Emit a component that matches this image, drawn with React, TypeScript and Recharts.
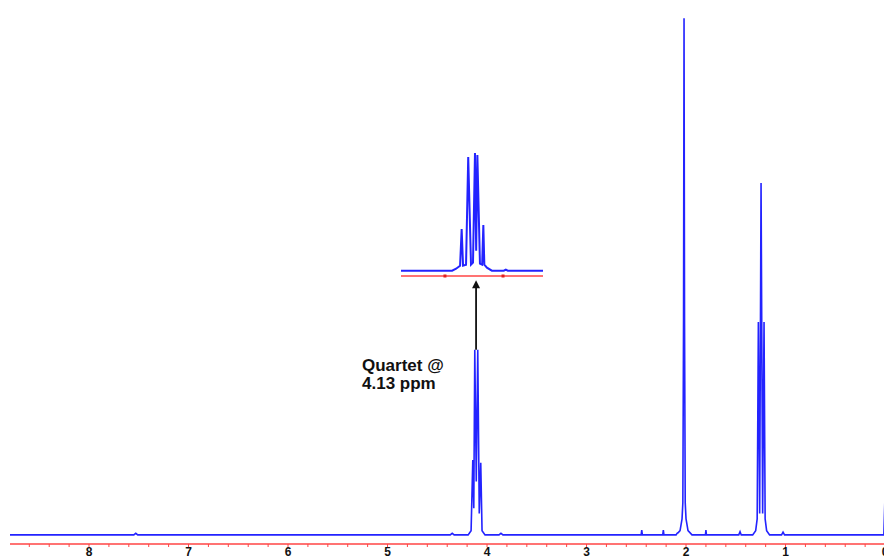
import React from "react";
import { LineChart, Line, XAxis, YAxis, ReferenceLine } from "recharts";

// main spectrum, chemical shift (ppm) and intensity
const mainShifts = [
  -0.07, -0.012, 0.0, 0.012, 1.01, 1.025, 1.04,
  1.16, 1.19, 1.205, 1.216, 1.23, 1.246, 1.26, 1.273, 1.285, 1.3, 1.33,
  1.445, 1.457, 1.47, 1.795, 1.8, 1.805,
  1.94, 1.98, 2.0, 2.008, 2.015, 2.02, 2.025, 2.032, 2.04, 2.06, 2.08, 2.09, 2.1,
  2.222, 2.228, 2.234, 2.439, 2.445, 2.451,
  3.84, 3.86, 3.88, 4.02, 4.05, 4.063, 4.078, 4.093, 4.108, 4.123, 4.133, 4.143, 4.16, 4.19,
  4.33, 4.35, 4.37, 7.51, 7.53, 7.55, 8.794,
];
const mainIntensity = [
  0, 0, 7.5, 0, 0, 0.5, 0,
  0, 0.8, 3, 39.8, 4, 65.8, 4, 39.8, 3, 0.8, 0,
  0, 0.6, 0, 0, 0.9, 0,
  0, 0.8, 3, 6, 40, 96.6, 40, 6, 3, 0.8, 0.4, 0.3, 0,
  0, 0.9, 0, 0, 0.9, 0,
  0, 0.3, 0, 0, 0.8, 13.5, 4, 34.6, 10, 34.6, 5, 14, 0.8, 0,
  0, 0.3, 0, 0, 0.3, 0, 0,
];

// expanded quartet shown in the inset
const insetShifts = [
  3.773, 3.95, 3.96, 3.97, 4.03, 4.055, 4.068, 4.073, 4.079, 4.09, 4.103, 4.109,
  4.115, 4.125, 4.135, 4.149, 4.16, 4.175, 4.182, 4.19, 4.21, 4.23, 4.487,
];
const insetIntensity = [
  0, 0, 1, 0, 0, 3, 6, 45.7, 6, 7, 115.7, 20,
  117.7, 8, 6, 113.7, 6, 5, 41.7, 5, 2, 0, 0,
];

const axisTicks = [
  0, 0.2, 0.4, 0.6, 0.8, 1, 1.2, 1.4, 1.6, 1.8, 2, 2.2, 2.4, 2.6, 2.8, 3, 3.2,
  3.4, 3.6, 3.8, 4, 4.2, 4.4, 4.6, 4.8, 5, 5.2, 5.4, 5.6, 5.8, 6, 6.2, 6.4,
  6.6, 6.8, 7, 7.2, 7.4, 7.6, 7.8, 8, 8.2, 8.4, 8.6,
];
const insetTicks = [3.974, 4.266];

const annotationLines = ["Quartet @", "4.13 ppm"];

const BLUE = "#2323ff";
const RED = "#ff4545";

const mainData = mainShifts.map((ppm, i) => ({ ppm, v: mainIntensity[i] }));
const insetData = insetShifts.map((ppm, i) => ({ ppm, v: insetIntensity[i] }));

const MainTick = (props: any) => {
  const { x, y, payload } = props;
  const v = payload.value;
  if (Math.abs(v - Math.round(v)) > 1e-6) return null;
  return (
    <text
      x={x}
      y={y + 9}
      textAnchor="middle"
      fontSize={12}
      fontWeight="bold"
      fontFamily="Liberation Sans, Arial, sans-serif"
      fill="#111"
    >
      {Math.round(v)}
    </text>
  );
};

const InsetTick = (props: any) => {
  const { x, y } = props;
  return <rect x={x - 1.5} y={y - 1.5} width={3} height={3} fill="#e02020" />;
};

const Arrow = (p: any) => {
  const top = Math.min(p.y1, p.y2);
  const bottom = Math.max(p.y1, p.y2);
  const x = p.x1;
  return (
    <g>
      <line x1={x} y1={bottom} x2={x} y2={top + 6} stroke="#111" strokeWidth={1.8} />
      <polygon points={`${x},${top} ${x - 4},${top + 8} ${x + 4},${top + 8}`} fill="#111" />
    </g>
  );
};

export default function App() {
  return (
    <div style={{ position: "relative", width: 884, height: 560 }}>
      <LineChart
        width={884}
        height={560}
        data={mainData}
        margin={{ top: 0, right: 0, bottom: 0, left: 2 }}
      >
        <XAxis
          type="number"
          dataKey="ppm"
          domain={[-0.07, 8.794]}
          reversed
          allowDataOverflow
          ticks={axisTicks}
          interval={0}
          height={24}
          axisLine={{ stroke: RED, strokeWidth: 1.5 }}
          tickLine={{ stroke: RED, strokeWidth: 1 }}
          tickSize={3}
          tickMargin={0}
          tick={<MainTick />}
        />
        <YAxis hide domain={[-1.7, 98.5]} allowDataOverflow />
        <Line
          type="linear"
          dataKey="v"
          stroke={BLUE}
          strokeWidth={1.6}
          dot={false}
          isAnimationActive={false}
        />
        <ReferenceLine
          segment={[
            { x: 4.11, y: 34.6 },
            { x: 4.11, y: 47.6 },
          ]}
          shape={<Arrow />}
        />
      </LineChart>

      <div style={{ position: "absolute", left: 393, top: 132 }}>
        <LineChart
          width={142}
          height={146}
          data={insetData}
          margin={{ top: 0, right: 0, bottom: 0, left: 0 }}
        >
          <XAxis
            type="number"
            dataKey="ppm"
            domain={[3.773, 4.487]}
            reversed
            allowDataOverflow
            ticks={insetTicks}
            height={10}
            axisLine={{ stroke: RED, strokeWidth: 1.5 }}
            tickLine={false}
            tickSize={0}
            tickMargin={0}
            tick={<InsetTick />}
          />
          <YAxis hide domain={[-5.3, 130.7]} allowDataOverflow />
          <Line
            type="linear"
            dataKey="v"
            stroke={BLUE}
            strokeWidth={2}
            dot={false}
            isAnimationActive={false}
          />
        </LineChart>
      </div>

      <div
        style={{
          position: "absolute",
          left: 354,
          top: 349,
          fontFamily: "Liberation Sans, Arial, sans-serif",
          fontWeight: "bold",
          fontSize: 17,
          lineHeight: "18px",
          color: "#111",
        }}
      >
        {annotationLines.map((t) => (
          <div key={t}>{t}</div>
        ))}
      </div>
    </div>
  );
}
